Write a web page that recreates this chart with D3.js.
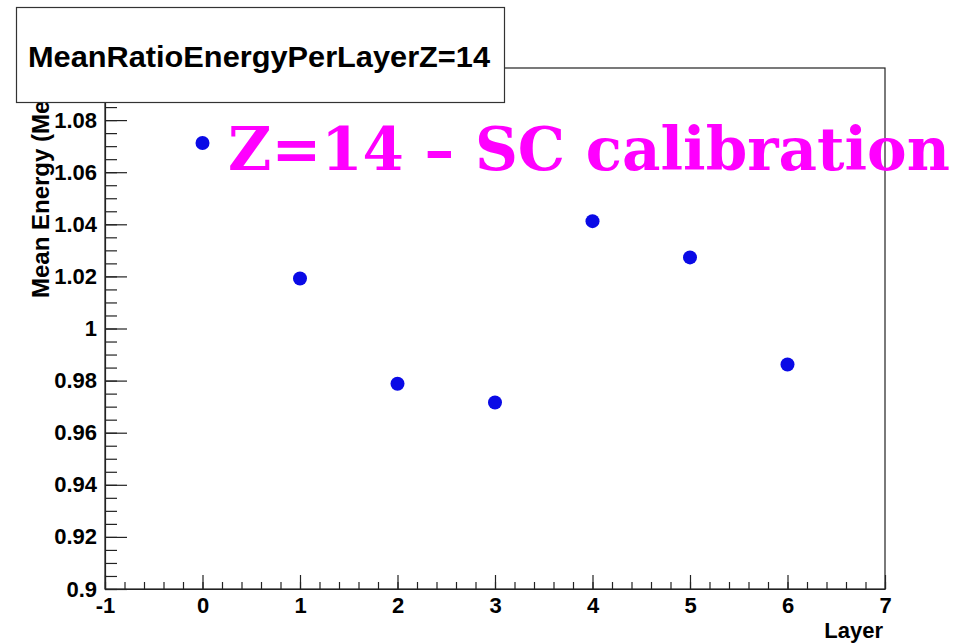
<!DOCTYPE html>
<html><head><meta charset="utf-8">
<script src="https://cdn.jsdelivr.net/npm/d3@7"></script>
<style>
html,body{margin:0;padding:0;background:#fff;}
text{font-family:"Liberation Sans",Arial,sans-serif;font-weight:bold;}
text.serif{font-family:"DejaVu Serif",serif;font-weight:bold;}
</style></head>
<body><svg id="c" width="956" height="644"></svg>
<script>
const layers = [0, 1, 2, 3, 4, 5, 6];
const meanRatio = [1.0712, 1.0192, 0.9788, 0.9716, 1.0412, 1.0273, 0.9862];
const xTicks = [-1, 0, 1, 2, 3, 4, 5, 6, 7];
const xTickLabels = ["-1", "0", "1", "2", "3", "4", "5", "6", "7"];
const yTicks = [0.9, 0.92, 0.94, 0.96, 0.98, 1, 1.02, 1.04, 1.06, 1.08];
const yTickLabels = ["0.9", "0.92", "0.94", "0.96", "0.98", "1", "1.02", "1.04", "1.06", "1.08"];
const titleText = "MeanRatioEnergyPerLayerZ=14";
const overlayText = "Z=14 \u2013 SC calibration";
const xTitle = "Layer";
const yTitle = "Mean Energy (MeV)";

const svg = d3.select("#c");
const L = 105, R = 885, T = 68, B = 589;
const x = d3.scaleLinear().domain([-1, 7]).range([L, R]);
const y = d3.scaleLinear().domain([0.9, 1.1]).range([B, T]);
const axisColor = "#222";

// frame
svg.append("rect").attr("x", L).attr("y", T).attr("width", R - L).attr("height", B - T)
  .attr("fill", "none").attr("stroke", axisColor).attr("stroke-width", 1.2);

// y axis minor
const yMinor = d3.range(0, 41).map(i => 0.9 + i * 0.005).filter(v => v <= 1.1 + 1e-9);
svg.append("g").attr("transform", `translate(${L},0)`)
  .call(d3.axisLeft(y).tickValues(yMinor).tickSize(-12).tickSizeOuter(0).tickFormat(""))
  .call(g => g.select(".domain").remove())
  .selectAll("line").attr("stroke", axisColor).attr("stroke-width", 1.2);
// y axis major
const yAx = svg.append("g").attr("transform", `translate(${L},0)`)
  .call(d3.axisLeft(y).tickValues(yTicks).tickSize(-22).tickSizeOuter(0).tickPadding(8)
    .tickFormat((d, i) => yTickLabels[i]));
yAx.select(".domain").attr("stroke", axisColor).attr("stroke-width", 1.2);
yAx.selectAll("line").attr("stroke", axisColor).attr("stroke-width", 1.2);
yAx.selectAll("text").attr("font-size", 22).attr("fill", "#000");

// x axis minor
const xMinor = d3.range(0, 41).map(i => -1 + i * 0.2);
svg.append("g").attr("transform", `translate(0,${B})`)
  .call(d3.axisBottom(x).tickValues(xMinor).tickSize(-7).tickSizeOuter(0).tickFormat(""))
  .call(g => g.select(".domain").remove())
  .selectAll("line").attr("stroke", axisColor).attr("stroke-width", 1.2);
// x axis major
const xAx = svg.append("g").attr("transform", `translate(0,${B})`)
  .call(d3.axisBottom(x).tickValues(xTicks).tickSize(-14).tickSizeOuter(0).tickPadding(8)
    .tickFormat((d, i) => xTickLabels[i]));
xAx.select(".domain").attr("stroke", axisColor).attr("stroke-width", 1.2);
xAx.selectAll("line").attr("stroke", axisColor).attr("stroke-width", 1.2);
xAx.selectAll("text").attr("font-size", 22).attr("fill", "#000");

// axis titles
svg.append("text").attr("x", R - 2).attr("y", 638).attr("text-anchor", "end")
  .attr("font-size", 22).attr("fill", "#000").text(xTitle);
svg.append("text").attr("transform", `translate(49,298) rotate(-90)`)
  .attr("text-anchor", "start").attr("font-size", 24).attr("fill", "#000").text(yTitle);

// points
svg.append("g").selectAll("circle").data(layers).join("circle")
  .attr("cx", d => x(d)).attr("cy", (d, i) => y(meanRatio[i])).attr("r", 7)
  .attr("fill", "#0a0ae6");

// title box
svg.append("rect").attr("x", 16.5).attr("y", 7.5).attr("width", 488).attr("height", 95)
  .attr("fill", "#fff").attr("stroke", "#333").attr("stroke-width", 1.2);
svg.append("text").attr("x", 28).attr("y", 67).attr("font-size", 30).attr("fill", "#000")
  .attr("textLength", 462).attr("lengthAdjust", "spacingAndGlyphs").text(titleText);

// overlay magenta text, sized to its measured natural width
const ov = svg.append("text").attr("class", "serif").attr("x", 228).attr("y", 170)
  .attr("font-size", 62).attr("fill", "#ff00ff").text(overlayText);
const w = ov.node().getComputedTextLength();
ov.attr("font-size", 62 * 722 / w);
</script></body></html>
